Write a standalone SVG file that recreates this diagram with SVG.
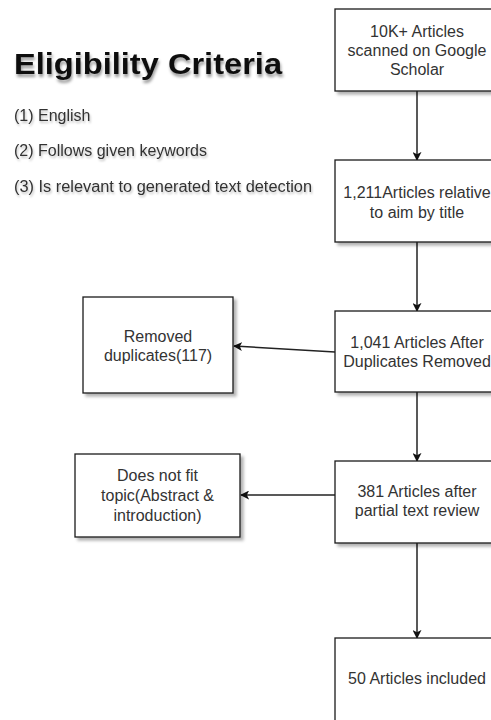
<svg xmlns="http://www.w3.org/2000/svg" width="491" height="720" viewBox="0 0 491 720">
<defs>
<style>
.box{fill:#ffffff;stroke:#1a1a1a;stroke-width:1.3;filter:url(#sh)}
.t{font-family:"Liberation Sans",Arial,sans-serif;font-size:16px;fill:#333333;text-anchor:middle}
.c{font-family:"Liberation Sans",Arial,sans-serif;font-size:16px;fill:#333333;filter:url(#tsh)}
.title{font-family:"Liberation Sans",Arial,sans-serif;font-size:29px;font-weight:bold;fill:#111111;filter:url(#tsh2)}
.ln{stroke:#222222;stroke-width:1.5;fill:none;marker-end:url(#ah)}
</style>
<filter id="sh" x="-10%" y="-10%" width="130%" height="130%">
<feDropShadow dx="3" dy="3" stdDeviation="1.5" flood-color="#000000" flood-opacity="0.3"/>
</filter>
<filter id="tsh" x="-5%" y="-20%" width="115%" height="160%">
<feDropShadow dx="1" dy="2" stdDeviation="1.2" flood-color="#000000" flood-opacity="0.25"/>
</filter>
<filter id="tsh2" x="-5%" y="-20%" width="115%" height="160%">
<feDropShadow dx="1" dy="3" stdDeviation="1.8" flood-color="#000000" flood-opacity="0.4"/>
</filter>
<marker id="ah" viewBox="0 0 10 10" refX="9" refY="5" markerWidth="9" markerHeight="9" orient="auto" markerUnits="userSpaceOnUse">
<path d="M0,0 L10,5 L0,10 L2.5,5 Z" fill="#111111"/>
</marker>
</defs>
<rect width="491" height="720" fill="#ffffff"/>

<g id="criteria">
<text class="title" x="14" y="74" textLength="268" lengthAdjust="spacingAndGlyphs">Eligibility Criteria</text>
<text class="c" x="14" y="121">(1) English</text>
<text class="c" x="14" y="156">(2) Follows given keywords</text>
<text class="c" x="14" y="192" textLength="298" lengthAdjust="spacingAndGlyphs">(3) Is relevant to generated text detection</text>
</g>

<g id="connectors">
<line class="ln" x1="417" y1="91" x2="417" y2="160"/>
<line class="ln" x1="417" y1="242" x2="417" y2="311"/>
<line class="ln" x1="335" y1="352" x2="234" y2="346"/>
<line class="ln" x1="417" y1="392" x2="417" y2="461"/>
<line class="ln" x1="335" y1="495" x2="241" y2="495"/>
<line class="ln" x1="417" y1="543" x2="417" y2="638"/>
</g>

<g id="n1">
<rect class="box" x="335" y="9" width="164" height="82"/>
<text class="t" x="417" y="37">10K+ Articles</text>
<text class="t" x="417" y="56">scanned on Google</text>
<text class="t" x="417" y="75">Scholar</text>
</g>

<g id="n2">
<rect class="box" x="335" y="160" width="164" height="82"/>
<text class="t" x="417" y="198">1,211Articles relative</text>
<text class="t" x="417" y="218">to aim by title</text>
</g>

<g id="n3">
<rect class="box" x="335" y="311" width="164" height="81"/>
<text class="t" x="417" y="348">1,041 Articles After</text>
<text class="t" x="417" y="367">Duplicates Removed</text>
</g>

<g id="n4">
<rect class="box" x="83" y="297" width="150" height="96"/>
<text class="t" x="158" y="342">Removed</text>
<text class="t" x="158" y="361">duplicates(117)</text>
</g>

<g id="n5">
<rect class="box" x="335" y="461" width="164" height="82"/>
<text class="t" x="417" y="497">381 Articles after</text>
<text class="t" x="417" y="516">partial text review</text>
</g>

<g id="n6">
<rect class="box" x="75" y="454" width="165" height="83"/>
<text class="t" x="157.5" y="481">Does not fit</text>
<text class="t" x="157.5" y="501">topic(Abstract &amp;</text>
<text class="t" x="157.5" y="521">introduction)</text>
</g>

<g id="n7">
<rect class="box" x="335" y="638" width="164" height="86"/>
<text class="t" x="417" y="684">50 Articles included</text>
</g>
</svg>
